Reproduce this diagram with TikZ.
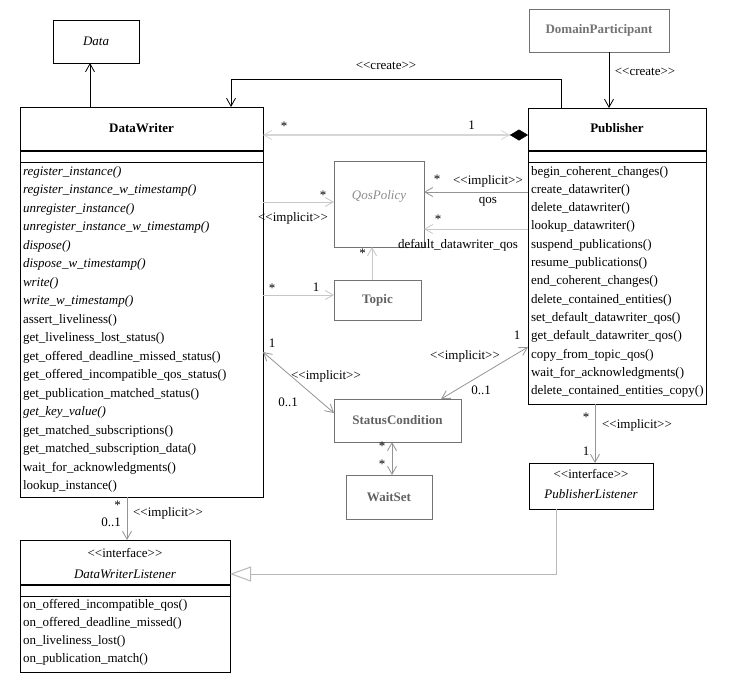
\documentclass[tikz,border=0pt]{standalone}
\usepackage{fontspec}
\setmainfont{Liberation Serif}[Ligatures=TeXOff]
\usetikzlibrary{arrows.meta}
\newcommand\ster[1]{<\kern0pt<#1>\kern0pt>}
\begin{document}
\begin{tikzpicture}[x=1pt,y=-1pt,
  box/.style={draw=black, line width=1pt, inner sep=0pt, outer sep=0pt, anchor=north west, font=\fontsize{13}{15}\selectfont},
  gbox/.style={box, draw=black!55},
  txt/.style={font=\fontsize{13}{15}\selectfont, inner sep=0pt, outer sep=0pt},
  meth/.style={txt, anchor=west, text height=9pt, text depth=3pt},
  lab/.style={txt, anchor=base},
  ub/.tip={Straight Barb[length=8pt,width=9pt,line width=0.8pt]},
  blk/.style={draw=black, line width=1pt},
  lgr/.style={draw=black!22, line width=1pt},
  mgr/.style={draw=black!42, line width=0.8pt},
]
\useasboundingbox (0,0) rectangle (746,686);

% ---------- boxes ----------
\node[box, minimum width=86pt, minimum height=43pt] (data) at (53,20) {\itshape Data};
\node[gbox, minimum width=140pt, minimum height=43pt, text=black!55] (dp) at (529,9) {\bfseries DomainParticipant};
\node[box, minimum width=243pt, minimum height=390pt] (dw) at (20,107) {};
\node[box, minimum width=178pt, minimum height=296pt] (pub) at (528,108) {};
\node[gbox, minimum width=90pt, minimum height=86pt] (qos) at (334,161) {};
\node[gbox, minimum width=87pt, minimum height=40pt, text=black!62] (topic) at (334,280) {\bfseries Topic};
\node[gbox, minimum width=127pt, minimum height=43pt, text=black!62] (sc) at (334,399) {\bfseries StatusCondition};
\node[gbox, minimum width=86pt, minimum height=44pt, text=black!62] (ws) at (346,475) {\bfseries WaitSet};
\node[box, minimum width=124pt, minimum height=46pt] (pl) at (529,463) {};
\node[box, minimum width=210pt, minimum height=132pt] (dwl) at (20,540) {};

% ---------- titles ----------
\node[txt, text=black!45] (qost) at (379,196) {\itshape QosPolicy};
\node[txt] (dwt) at (141.5,128) {\bfseries DataWriter};
\node[txt] (pubt) at (617,128) {\bfseries Publisher};
\node[txt] (pls) at (591,474) {\ster{interface}};
\node[txt] (pln) at (591,494) {\itshape PublisherListener};
\node[txt] (dwls) at (125,553) {\ster{interface}};
\node[txt] (dwln) at (125,574) {\itshape DataWriterListener};

% ---------- separators ----------
\draw[line width=2pt] (dw.west |- 0,151) -- (dw.east |- 0,151);
\draw[line width=1pt] (dw.west |- 0,162) -- (dw.east |- 0,162);
\draw[line width=2pt] (pub.west |- 0,151) -- (pub.east |- 0,151);
\draw[line width=1pt] (pub.west |- 0,162) -- (pub.east |- 0,162);
\draw[line width=2pt] (dwl.west |- 0,585) -- (dwl.east |- 0,585);
\draw[line width=1pt] (dwl.west |- 0,596) -- (dwl.east |- 0,596);

% ---------- methods ----------
\foreach \t [count=\i from 0] in {
  {\itshape register\_instance()},
  {\itshape register\_instance\_w\_timestamp()},
  {\itshape unregister\_instance()},
  {\itshape unregister\_instance\_w\_timestamp()},
  {\itshape dispose()},
  {\itshape dispose\_w\_timestamp()},
  {\itshape write()},
  {\itshape write\_w\_timestamp()},
  {assert\_liveliness()},
  {get\_liveliness\_lost\_status()},
  {get\_offered\_deadline\_missed\_status()},
  {get\_offered\_incompatible\_qos\_status()},
  {get\_publication\_matched\_status()},
  {\itshape get\_key\_value()},
  {get\_matched\_subscriptions()},
  {get\_matched\_subscription\_data()},
  {wait\_for\_acknowledgments()},
  {lookup\_instance()}}
  \node[meth] (dwm\i) at (23,172+18.5*\i) {\t};

\foreach \t [count=\i from 0] in {
  {begin\_coherent\_changes()},
  {create\_datawriter()},
  {delete\_datawriter()},
  {lookup\_datawriter()},
  {suspend\_publications()},
  {resume\_publications()},
  {end\_coherent\_changes()},
  {delete\_contained\_entities()},
  {set\_default\_datawriter\_qos()},
  {get\_default\_datawriter\_qos()},
  {copy\_from\_topic\_qos()},
  {wait\_for\_acknowledgments()},
  {delete\_contained\_entities\_copy()}}
  \node[meth] (pubm\i) at (531,172+18.33*\i) {\t};

\foreach \t [count=\i from 0] in {
  {on\_offered\_incompatible\_qos()},
  {on\_offered\_deadline\_missed()},
  {on\_liveliness\_lost()},
  {on\_publication\_match()}}
  \node[meth] (dwlm\i) at (23,605+18.3*\i) {\t};

% ---------- connectors ----------
% DataWriter -> Data
\draw[blk, -{ub}] (90,0 |- dw.north) -- (90,0 |- data.south);
% DomainParticipant -> Publisher
\draw[blk, -{ub}] (609,0 |- dp.south) -- (609,0 |- pub.north);
\node[lab] (l1) at (645,75) {\ster{create}};
% Publisher creates DataWriter
\draw[blk, -{ub}] (561,0 |- pub.north) -- (561,79) -- (231,79) -- (231,0 |- dw.north);
\node[lab] (l2) at (386,69) {\ster{create}};
% DataWriter -- Publisher aggregation
\draw[draw=black!16, line width=1.8pt, {ub}-{ub[] Diamond[length=18pt,width=11pt,black,fill=black,line width=0.5pt]}] (dw.east |- 0,135) -- (pub.west |- 0,135);
\node[lab] (l3) at (284,130) {*};
\node[lab] (l4) at (471.5,129) {1};
% DataWriter -> QosPolicy
\draw[lgr, -{ub}] (dw.east |- 0,202) -- (qos.west |- 0,202);
\node[lab] (l5) at (323,199) {*};
\node[lab] (l6) at (293,221) {\ster{implicit}};
% Publisher -> QosPolicy (qos)
\draw[mgr, -{ub}] (pub.west |- 0,192) -- (qos.east |- 0,192);
\node[lab] (l7) at (437,183) {*};
\node[lab] (l8) at (488,184) {\ster{implicit}};
\node[lab] (l9) at (488,203) {qos};
% Publisher -> QosPolicy (default)
\draw[lgr, -{ub}] (pub.west |- 0,229) -- (qos.east |- 0,229);
\node[lab] (l10) at (438,223) {*};
\node[lab] (l11) at (458,248) {default\_datawriter\_qos};
% Topic -> QosPolicy
\draw[lgr, -{ub}] (372,0 |- topic.north) -- (372,0 |- qos.south);
\node[lab] (l12) at (362.5,257) {*};
% DataWriter -> Topic
\draw[lgr, -{ub}] (dw.east |- 0,295) -- (topic.west |- 0,295);
\node[lab] (l13) at (272,292) {*};
\node[lab] (l14) at (316,291) {1};
% DataWriter <-> StatusCondition
\draw[mgr, {ub}-{ub}] (dw.east |- 0,352) -- (sc.west |- 0,413);
\node[lab] (l15) at (272,347) {1};
\node[lab] (l16) at (326,379) {\ster{implicit}};
\node[lab] (l17) at (288,406) {0..1};
% Publisher <-> StatusCondition
\draw[mgr, {ub}-{ub}] (pub.west |- 0,347) -- (441,0 |- sc.north);
\node[lab] (l18) at (517,339) {1};
\node[lab] (l19) at (465,359) {\ster{implicit}};
\node[lab] (l20) at (481,394) {0..1};
% StatusCondition <-> WaitSet
\draw[mgr, {ub}-{ub}] (392,0 |- sc.south) -- (392,0 |- ws.north);
\node[lab] (l21) at (382,450) {*};
\node[lab] (l22) at (382,468) {*};
% Publisher -> PublisherListener
\draw[mgr, -{ub}] (595,0 |- pub.south) -- (595,0 |- pl.north);
\node[lab] (l23) at (586,421) {*};
\node[lab] (l24) at (637,428) {\ster{implicit}};
\node[lab] (l25) at (586,455) {1};
% DataWriter -> DataWriterListener
\draw[mgr, -{ub}] (127,0 |- dw.south) -- (127,0 |- dwl.north);
\node[lab] (l26) at (117.5,509) {*};
\node[lab] (l27) at (111,526) {0..1};
\node[lab] (l28) at (168,516) {\ster{implicit}};
% PublisherListener generalizes DataWriterListener
\draw[draw=black!28, line width=1pt, -{Triangle[open,length=21pt,width=15pt,fill=white]}] (556,0 |- pl.south) -- (556,574) -- (dwl.east |- 0,574);
\end{tikzpicture}
\end{document}
